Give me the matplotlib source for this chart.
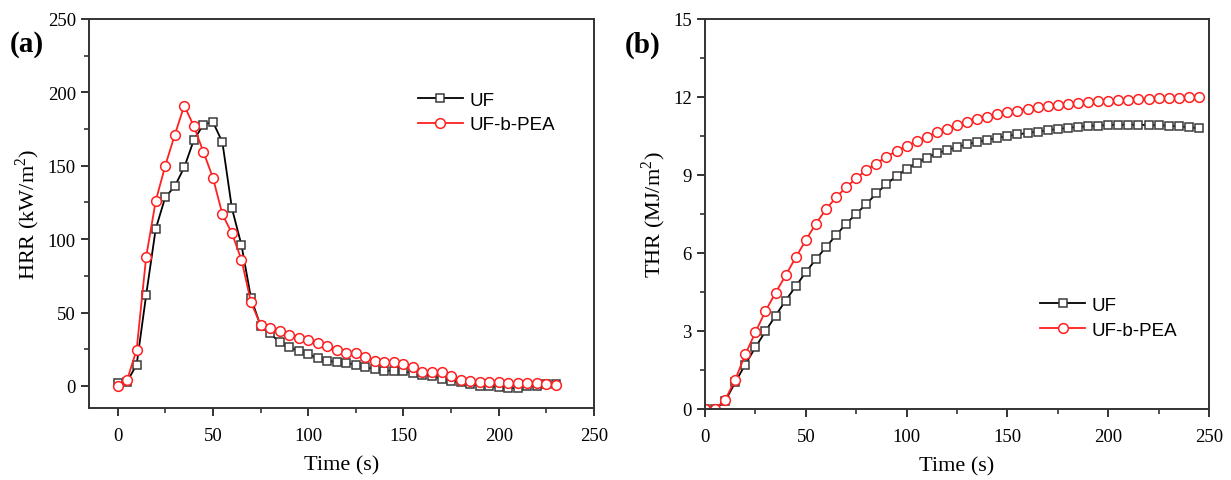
import numpy as np
import matplotlib
matplotlib.use("Agg")
import matplotlib.pyplot as plt
from matplotlib.ticker import MultipleLocator

# HRR data (a), every 5 s
t_hrr = np.arange(0, 231, 5)
hrr_uf = [2, 3, 14.5, 62, 107, 128.5, 136, 149, 167.5, 178, 180, 166, 121, 96, 60,
          41, 36, 29.7, 26.3, 24, 21.8, 18.8, 17.3, 16.1, 15.7, 14.5, 12.7, 11.6, 10.4, 10.4,
          9.9, 8.8, 7.7, 7, 4.8, 3.6, 2.5, 1.1, 0.2, -0.2, -0.7, -1.6, -1.2, -0.2, 0.2,
          1.1, 1.1]
hrr_pea = [0.2, 4, 24.8, 88, 126, 150, 171, 191, 177, 159.6, 142, 117, 104, 86, 57,
           41.8, 39.5, 37.2, 35, 32.7, 31.5, 29.3, 27.5, 24.8, 22.5, 22.5, 19.5, 16.8, 16.1, 16.1,
           15, 13.2, 9.8, 9.8, 9.3, 7, 4.3, 3.2, 2.5, 2.5, 2.5, 2, 2, 2, 1.8,
           1.3, 0.8]

# THR data (b), every 5 s
t_thr = np.arange(0, 246, 5)
thr_uf = [0, 0, 0.3, 1.03, 1.71, 2.37, 2.99, 3.59, 4.17, 4.72, 5.26, 5.76, 6.22, 6.69, 7.12,
          7.51, 7.88, 8.29, 8.65, 8.96, 9.23, 9.46, 9.67, 9.83, 9.96,
          10.08, 10.18, 10.27, 10.35, 10.43, 10.5, 10.56, 10.62, 10.67, 10.72, 10.77, 10.81,
          10.85, 10.88, 10.9, 10.92, 10.93, 10.93, 10.93, 10.92, 10.91, 10.9, 10.87, 10.84, 10.79]
thr_pea = [0, 0, 0.35, 1.13, 2.1, 2.95, 3.77, 4.47, 5.14, 5.83, 6.49, 7.13, 7.68, 8.14, 8.53,
           8.87, 9.19, 9.44, 9.7, 9.93, 10.12, 10.31, 10.47, 10.65, 10.78,
           10.92, 11.05, 11.15, 11.25, 11.33, 11.41, 11.48, 11.55, 11.6, 11.65, 11.7, 11.74,
           11.78, 11.81, 11.84, 11.86, 11.88, 11.9, 11.92, 11.94, 11.95, 11.96, 11.98, 11.99, 12.0]

serif = "Liberation Serif"
sans = "Liberation Sans"
plt.rcParams["mathtext.fontset"] = "custom"
plt.rcParams["mathtext.rm"] = serif

fig = plt.figure(figsize=(12.31, 4.81), dpi=100)
ax1 = fig.add_axes([89/1231, 1-409/481, 505/1231, 389/481])
ax2 = fig.add_axes([705/1231, 1-410/481, 504/1231, 390/481])

sq = dict(marker="s", ms=6, mfc="white", mec="#3a3a3a", mew=1.1, color="black", lw=1.3)
ci = dict(marker="o", ms=7, mfc="white", mec="#ff2020", mew=1.1, color="#ff2020", lw=1.3)

ax1.plot(t_hrr, hrr_uf, label="UF", **sq)
ax1.plot(t_hrr, hrr_pea, label="UF-b-PEA", **ci)
ax2.plot(t_thr, thr_uf, label="UF", **sq)
ax2.plot(t_thr, thr_pea, label="UF-b-PEA", **ci)

ax1.set_xlim(-15, 250)
ax1.set_ylim(-15, 250)
ax1.xaxis.set_major_locator(MultipleLocator(50))
ax1.xaxis.set_minor_locator(MultipleLocator(25))
ax1.yaxis.set_major_locator(MultipleLocator(50))
ax1.yaxis.set_minor_locator(MultipleLocator(25))

ax2.set_xlim(0, 250)
ax2.set_ylim(0, 15)
ax2.xaxis.set_major_locator(MultipleLocator(50))
ax2.xaxis.set_minor_locator(MultipleLocator(25))
ax2.yaxis.set_major_locator(MultipleLocator(3))
ax2.yaxis.set_minor_locator(MultipleLocator(1.5))

for ax in (ax1, ax2):
    for s in ax.spines.values():
        s.set_linewidth(1.4)
        s.set_color("#333333")
    ax.tick_params(which="major", direction="out", length=6, width=1.4, labelsize=13.5, color="#333333")
    ax.tick_params(which="minor", direction="out", length=3.5, width=1.2, color="#333333")
    ax.tick_params(axis="x", which="major", pad=8)
    for lab in ax.get_xticklabels() + ax.get_yticklabels():
        lab.set_fontfamily(serif)
    ax.set_xlabel("Time (s)", fontsize=16, fontfamily=serif, labelpad=8)

ax1.set_ylabel("HRR (kW/m$^2$)", fontsize=16, fontfamily=serif, labelpad=4)
ax2.set_ylabel("THR (MJ/m$^2$)", fontsize=16, fontfamily=serif, labelpad=4)

leg_kw = dict(frameon=False, loc="center left", borderpad=0, borderaxespad=0,
              handlelength=2.4, handletextpad=0.35, labelspacing=0.4,
              prop={"family": sans, "size": 13.5})
ax1.legend(bbox_to_anchor=(0.651, 0.760), **leg_kw)
ax2.legend(bbox_to_anchor=(0.665, 0.234), **leg_kw)

fig.text(27/1231, 1-44/481, "(a)", fontsize=21, fontweight="bold", fontfamily=serif,
         ha="center", va="center")
fig.text(643/1231, 1-45/481, "(b)", fontsize=21, fontweight="bold", fontfamily=serif,
         ha="center", va="center")

fig.savefig("out.png", dpi=100)
